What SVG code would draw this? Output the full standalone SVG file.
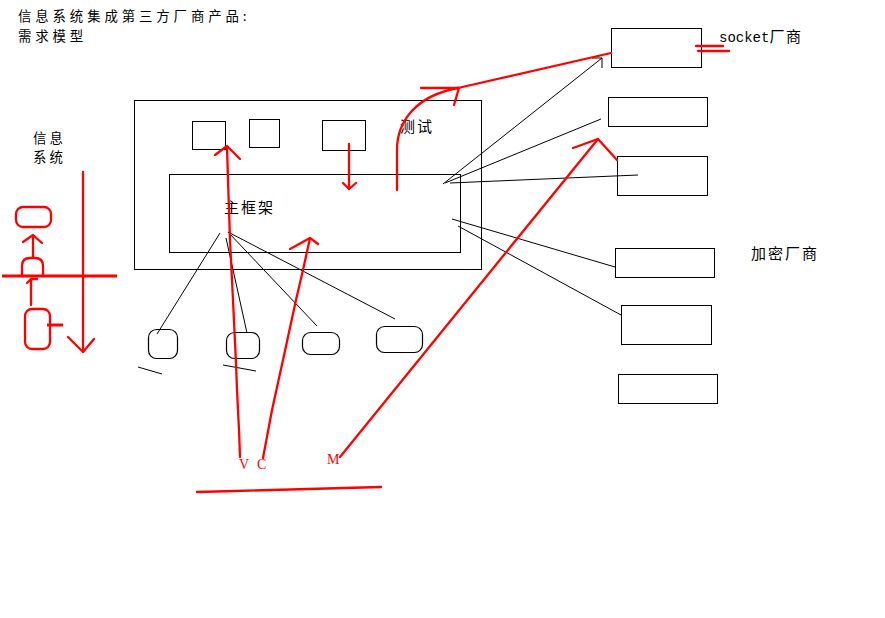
<svg xmlns="http://www.w3.org/2000/svg" width="885" height="618" viewBox="0 0 885 618">
  <style>
    .box { fill: none; stroke: #000; stroke-width: 1; shape-rendering: crispEdges; }
    .rbox { fill: none; stroke: #000; stroke-width: 1.2; }
    .wire { fill: none; stroke: #000; stroke-width: 1; }
    .ink { fill: none; stroke: #f00; stroke-width: 2.3; stroke-linecap: round; stroke-linejoin: round; }
    .ink-thick { fill: none; stroke: #f00; stroke-width: 3; stroke-linecap: butt; }
    .cjk { font-family: "Noto Sans CJK SC", "Noto Sans", sans-serif; font-size: 15px; fill: #000; letter-spacing: 2px; }
    .cjk-sm { font-family: "Noto Sans CJK SC", "Noto Sans", sans-serif; font-size: 13.4px; fill: #000; }
    .mono { font-family: "Liberation Mono", monospace; font-size: 14px; fill: #000; }
    .mark { font-family: "Liberation Serif", serif; font-size: 14px; fill: #f00; }
  </style>

  <rect width="885" height="618" fill="#fff"/>

  <!-- heading, two lines -->
  <g id="title">
    <text class="cjk-sm" x="18" y="21" style="letter-spacing:3.9px">信息系统集成第三方厂商产品:</text>
    <text class="cjk-sm" x="18" y="40.5" style="letter-spacing:3.9px">需求模型</text>
  </g>

  <!-- information system column on the left -->
  <g id="info-system">
    <text class="cjk-sm" x="33" y="142.5" style="letter-spacing:3.1px">信息</text>
    <text class="cjk-sm" x="33" y="162" style="letter-spacing:3.1px">系统</text>
    <line class="ink" x1="83" y1="172" x2="83" y2="352"/>
    <polyline class="ink" points="68,337 83,352 94,339"/>
    <line class="ink-thick" x1="2" y1="276" x2="117" y2="276"/>
    <rect class="ink" x="16" y="207" width="35" height="20" rx="7"/>
    <path class="ink" d="M22,276 L22,266 Q22,258 30,258 L35,258 Q43,258 43,266 L43,276"/>
    <rect class="ink" x="25" y="309" width="25" height="40" rx="7"/>
    <line class="ink" x1="33" y1="258" x2="33" y2="236"/>
    <polyline class="ink" points="23,242 33,235 42,243"/>
    <line class="ink" x1="31" y1="305" x2="31" y2="279"/>
    <polyline class="ink" points="27,283 31,279 37,279"/>
    <line class="ink-thick" x1="47" y1="325" x2="63" y2="325"/>
  </g>

  <!-- platform with its main framework -->
  <g id="platform">
    <rect class="box" x="134.5" y="100.5" width="347" height="169"/>
    <text class="cjk" x="400" y="132">测试</text>
  </g>
  <g id="module-1"><rect class="box" x="192.5" y="121.5" width="33" height="28"/></g>
  <g id="module-2"><rect class="box" x="249.5" y="119.5" width="30" height="28"/></g>
  <g id="module-3"><rect class="box" x="322.5" y="120.5" width="43" height="30"/></g>
  <g id="main-framework">
    <rect class="box" x="169.5" y="174.5" width="291" height="78"/>
    <text class="cjk" x="224" y="213">主框架</text>
  </g>

  <!-- plug-ins below the framework -->
  <g id="plugin-1"><rect class="rbox" x="148.5" y="329.5" width="29" height="29" rx="8"/></g>
  <g id="plugin-2"><rect class="rbox" x="226.5" y="332.5" width="33" height="26" rx="8"/></g>
  <g id="plugin-3"><rect class="rbox" x="302.5" y="332.5" width="37" height="22" rx="8"/></g>
  <g id="plugin-4"><rect class="rbox" x="376.5" y="326.5" width="46" height="26" rx="8"/></g>

  <!-- vendor boxes on the right -->
  <g id="vendor-socket">
    <rect class="box" x="611.5" y="28.5" width="90" height="39"/>
    <text x="719" y="42"><tspan class="mono">socket</tspan><tspan class="cjk" style="letter-spacing:1.5px">厂商</tspan></text>
  </g>
  <g id="vendor-2"><rect class="box" x="608.5" y="97.5" width="99" height="29"/></g>
  <g id="vendor-3"><rect class="box" x="617.5" y="156.5" width="90" height="39"/></g>
  <g id="vendor-crypto-1">
    <rect class="box" x="615.5" y="248.5" width="99" height="29"/>
    <text class="cjk" x="751" y="259">加密厂商</text>
  </g>
  <g id="vendor-crypto-2"><rect class="box" x="621.5" y="305.5" width="90" height="39"/></g>
  <g id="vendor-crypto-3"><rect class="box" x="618.5" y="374.5" width="99" height="29"/></g>

  <!-- thin black connectors -->
  <g id="connectors">
    <line class="wire" x1="443" y1="184" x2="602" y2="58"/>
    <polyline class="wire" points="592,58 602,58 602,68"/>
    <line class="wire" x1="445" y1="183" x2="601" y2="119"/>
    <line class="wire" x1="450" y1="183" x2="638" y2="175"/>
    <line class="wire" x1="452" y1="219" x2="615" y2="267"/>
    <line class="wire" x1="458" y1="226" x2="621" y2="315"/>
    <line class="wire" x1="220" y1="233" x2="157" y2="334"/>
    <line class="wire" x1="226" y1="238" x2="247" y2="333"/>
    <line class="wire" x1="228" y1="232" x2="317" y2="326"/>
    <line class="wire" x1="228" y1="232" x2="395" y2="319"/>
    <line class="wire" x1="138" y1="367" x2="162" y2="374"/>
    <line class="wire" x1="223" y1="365" x2="256" y2="371"/>
  </g>

  <!-- red pen strokes -->
  <g id="annotations">
    <polyline class="ink" points="227,147 228,180 230,240 233,300 236,363 237,390 239,430 240,457"/>
    <polyline class="ink" points="215,155 227,146 240,159"/>
    <polyline class="ink" points="263,458 272,410 283,360 296,300 303,270 310,238"/>
    <polyline class="ink" points="290,249 310,238 318,244"/>
    <line class="ink" x1="340" y1="457" x2="598" y2="139"/>
    <polyline class="ink" points="573,148 598,139 617,160"/>
    <line class="ink" x1="349" y1="144" x2="349" y2="189"/>
    <polyline class="ink" points="343,183 349,189 356,183"/>
    <path class="ink" d="M397,190 L397,150 C397,122 415,96 458,88 L611,53"/>
    <line class="ink" x1="421" y1="88" x2="459" y2="88"/>
    <line class="ink" x1="459" y1="88" x2="454" y2="105"/>
    <line class="ink" x1="696" y1="46" x2="723" y2="46"/>
    <line class="ink" x1="698" y1="51" x2="729" y2="51"/>
    <polyline class="ink" points="197,492 235,491 272,490 308,489 345,488 381,487"/>
    <text class="mark" x="239" y="469">V</text>
    <text class="mark" x="257" y="469">C</text>
    <text class="mark" x="327" y="464">M</text>
  </g>
</svg>
